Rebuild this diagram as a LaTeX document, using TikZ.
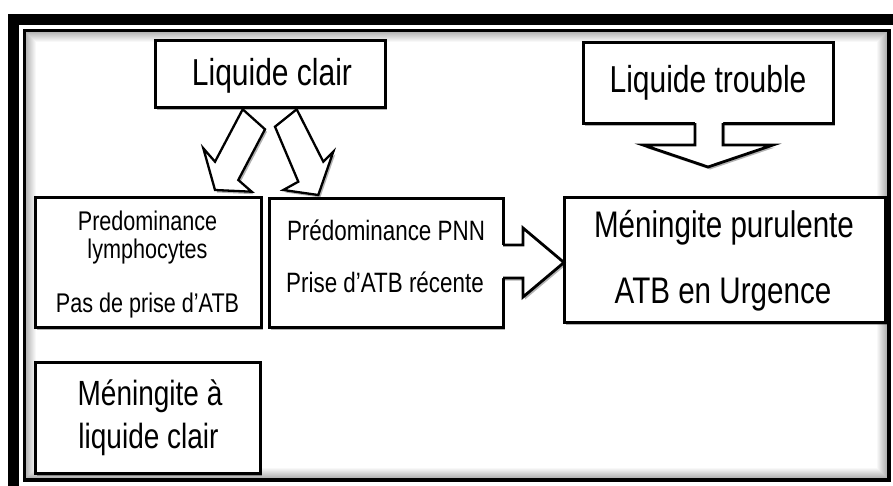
\documentclass[tikz,border=0pt]{standalone}
\usepackage{fontspec}
\setmainfont[FakeStretch=0.8]{Liberation Sans}
\usetikzlibrary{shadows,calc}
\newcommand{\myfs}[1]{\fontsize{#1}{#1}\selectfont}
\begin{document}
\begin{tikzpicture}[x=1pt,y=-1pt,
  boxstyle/.style={draw=black, line width=3pt, fill=white, inner sep=0pt, outer sep=0pt,
    drop shadow={shadow xshift=2pt, shadow yshift=-2.5pt, opacity=0.3, fill=black}},
  arrowfill/.style={fill=white, drop shadow={shadow xshift=2pt, shadow yshift=-2.5pt, opacity=0.3, fill=black}},
  arrowline/.style={draw=black, line width=2.3pt, line join=miter},
  txt/.style={inner sep=0pt, anchor=base, text=black}]
\useasboundingbox (0,0) rectangle (893,485);
% frame
\fill[white] (0,0) rectangle (893,485);
\draw[black, line width=11pt] (13.5,19.5) rectangle (910,500);
\draw[black, line width=3.5pt] (24.5,30.5) rectangle (889,480);
\foreach \i in {1,...,10}{
  \pgfmathsetmacro{\op}{0.32*(1-\i/11)}
  \draw[black, opacity=\op, line width=1pt] (26.25+\i-0.5,32.25+\i-0.5) rectangle (887.25-\i+0.5,478.25-\i+0.5);
}
% boxes
\node[boxstyle, minimum width=230pt, minimum height=67pt] (lc) at (270,73.5) {};
\node[boxstyle, minimum width=250pt, minimum height=81pt] (lt) at (708,82.5) {};
\node[boxstyle, minimum width=226pt, minimum height=130pt] (lym) at (148,262) {};
\node[boxstyle, minimum width=234pt, minimum height=129pt] (pnn) at (386,262.5) {};
\node[boxstyle, minimum width=321pt, minimum height=125pt] (pur) at (724.5,259.5) {};
\node[boxstyle, minimum width=225pt, minimum height=111pt] (mlc) at (147.5,417.5) {};
% block arrows from Liquide clair
\path[arrowfill] (242.7,109.3) -- (265,129.3) -- (238.3,180) -- (251.7,191.7) -- (215,190) -- (203.3,148.3) -- (215,161.7) -- cycle;
\draw[arrowline] (242.7,109.3) -- (265,129.3) -- (238.3,180) -- (251.7,191.7) -- (215,190) -- (203.3,148.3) -- (215,161.7) -- cycle;
\path[arrowfill] (296.7,109.3) -- (275,126.7) -- (298.3,181.7) -- (283.3,190) -- (318.3,195) -- (333.3,151.7) -- (323.3,161.7) -- cycle;
\draw[arrowline] (296.7,109.3) -- (275,126.7) -- (298.3,181.7) -- (283.3,190) -- (318.3,195) -- (333.3,151.7) -- (323.3,161.7) -- cycle;
% callout arrow of Liquide trouble
\path[arrowfill] (695,121) -- (695,145) -- (643,145) -- (708,167) -- (773,145) -- (723,145) -- (723,121) -- cycle;
\draw[arrowline, line width=2.8pt] (lt.south -| 695,0) -- (695,145) -- (643,145) -- (708,167) -- (773,145) -- (723,145) -- (lt.south -| 723,0);
% block arrow PNN -> purulente
\path[arrowfill] ($(pnn.east)+(-1.5,-17.5)$) -- ($(pnn.east)+(20,-17.5)$) -- ($(pnn.east)+(20,-34.5)$) -- (pur.west |- pnn.east) -- ($(pnn.east)+(20,34.5)$) -- ($(pnn.east)+(20,15.5)$) -- ($(pnn.east)+(-1.5,15.5)$) -- cycle;
\draw[arrowline, line width=2.8pt] ($(pnn.east)+(0,-17.5)$) -- ($(pnn.east)+(20,-17.5)$) -- ($(pnn.east)+(20,-34.5)$) -- (pur.west |- pnn.east) -- ($(pnn.east)+(20,34.5)$) -- ($(pnn.east)+(20,15.5)$) -- ($(pnn.east)+(0,15.5)$);
% texts
\node[txt] (t1) at (272,85) {\myfs{37.5}Liquide clair};
\node[txt] (t2) at (708,92) {\myfs{37.5}Liquide trouble};
\node[txt] (t3a) at (147.5,230) {\myfs{27}Predominance};
\node[txt] (t3b) at (147.5,258) {\myfs{27}lymphocytes};
\node[txt] (t3c) at (147.5,312) {\myfs{27}Pas de prise d’ATB};
\node[txt] (t4a) at (386,240) {\myfs{28}Prédominance PNN};
\node[txt] (t4b) at (385,292) {\myfs{28}Prise d’ATB récente};
\node[txt] (t5a) at (724,237) {\myfs{37}Méningite purulente};
\node[txt] (t5b) at (723,303) {\myfs{37}ATB en Urgence};
\node[txt] (t6a) at (150,405) {\myfs{35}Méningite à};
\node[txt] (t6b) at (148.5,448) {\myfs{35}liquide clair};
\end{tikzpicture}
\end{document}
